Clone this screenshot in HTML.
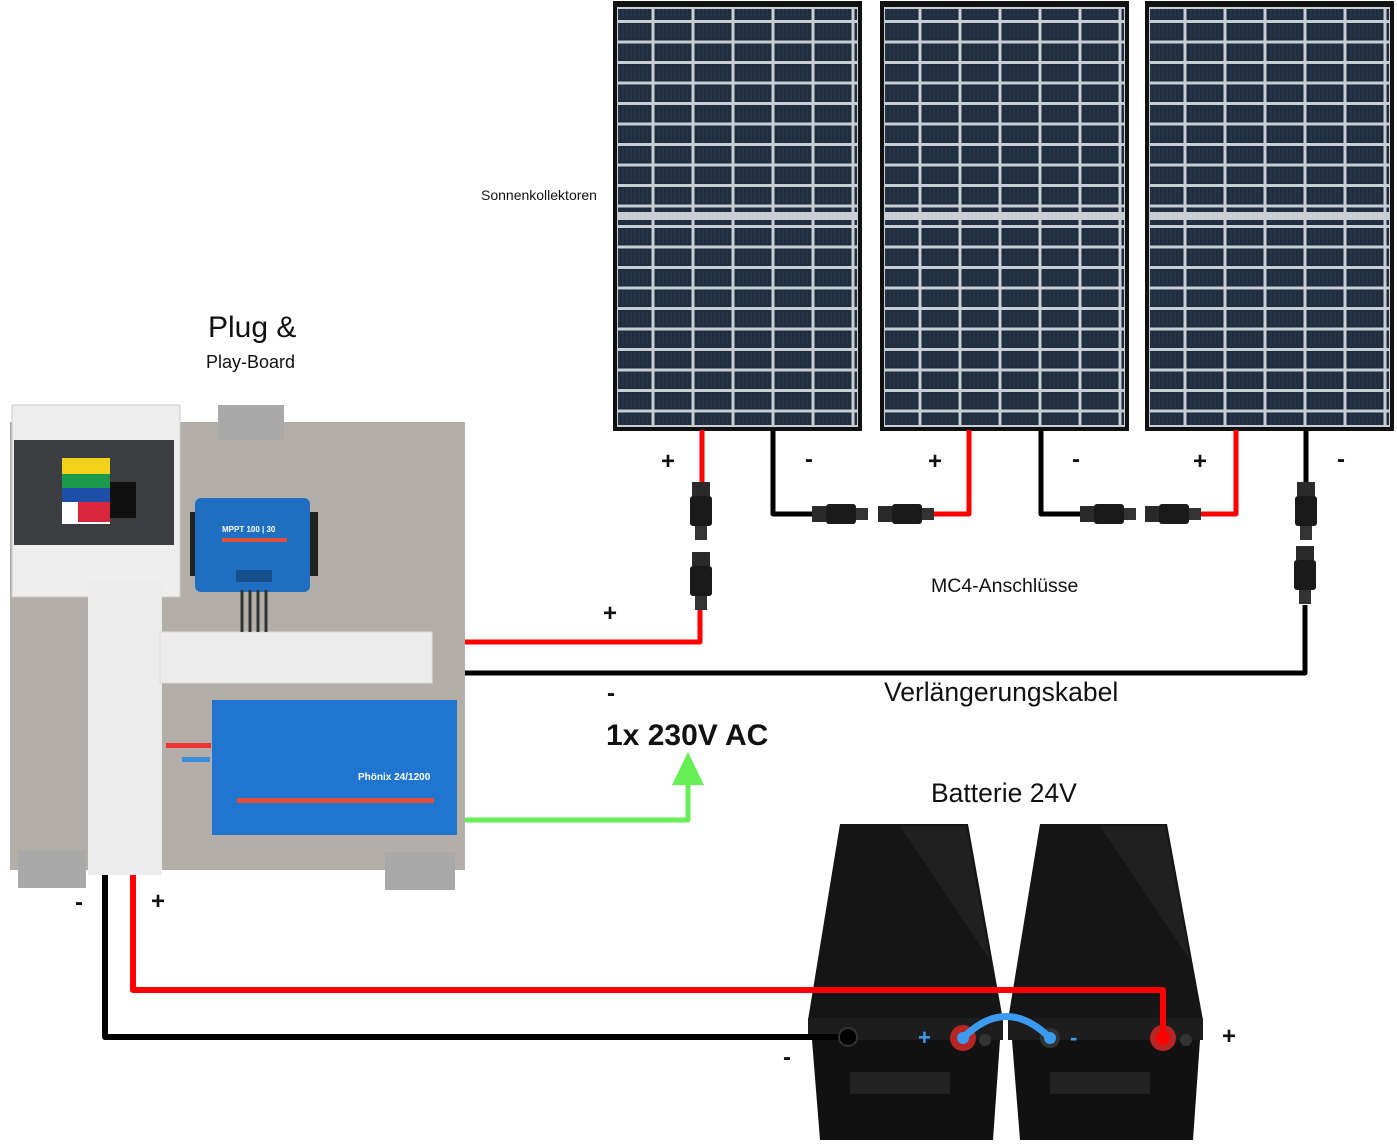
<!DOCTYPE html>
<html><head><meta charset="utf-8"><style>
html,body{margin:0;padding:0;background:#fff;}
svg{display:block;}
text{font-family:"Liberation Sans",sans-serif;}
</style></head><body>
<svg width="1397" height="1148" viewBox="0 0 1397 1148" xmlns="http://www.w3.org/2000/svg">
<defs>
<pattern id="cells" x="0" y="0" width="40" height="20.5" patternUnits="userSpaceOnUse">
<rect width="40" height="20.5" fill="#c9ced4"/>
<rect x="1.5" y="1.5" width="37" height="17.5" fill="#1f2d3f"/>
<path d="M6 3v14M10 3v14M14 3v14M18 3v14M22 3v14M26 3v14M30 3v14M34 3v14" stroke="#2c3b4f" stroke-width="1"/>
</pattern>
<g id="panel">
<rect x="0" y="0" width="249" height="430" fill="#111"/>
<rect x="4" y="6" width="241" height="420" fill="#c9ced4"/>
<rect x="5" y="8" width="239" height="203" fill="url(#cells)"/>
<rect x="5" y="219" width="239" height="205" fill="url(#cells)"/>
</g>
<g id="conn">
<rect x="-9" y="0" width="18" height="14" fill="#2a2a2a"/>
<rect x="-11" y="14" width="22" height="30" rx="3" fill="#1a1a1a"/>
<rect x="-6" y="44" width="12" height="14" fill="#333"/>
</g>
<g id="hconn">
<rect x="0" y="-8" width="14" height="16" fill="#2a2a2a"/>
<rect x="14" y="-10" width="30" height="20" rx="3" fill="#1a1a1a"/>
<rect x="44" y="-6" width="12" height="12" fill="#333"/>
</g>
</defs>

<use href="#panel" x="613" y="1"/>
<use href="#panel" x="880" y="1"/>
<use href="#panel" x="1145" y="1"/>

<!-- batteries -->
<g>
<polygon points="840,824 968,824 1003,1020 808,1020" fill="#151515"/>
<polygon points="900,826 966,826 990,960" fill="#202020"/>
<rect x="808" y="1018" width="195" height="22" fill="#1d1d1d"/>
<polygon points="812,1040 1000,1040 993,1140 820,1140" fill="#111"/>
<rect x="850" y="1072" width="100" height="22" fill="#222"/>
<polygon points="1040,824 1167,824 1203,1020 1008,1020" fill="#151515"/>
<polygon points="1100,826 1165,826 1190,960" fill="#202020"/>
<rect x="1008" y="1018" width="195" height="22" fill="#1d1d1d"/>
<polygon points="1012,1040 1200,1040 1193,1140 1020,1140" fill="#111"/>
<rect x="1050" y="1072" width="100" height="22" fill="#222"/>
<circle cx="963" cy="1038" r="13" fill="#b82525"/>
<circle cx="1050" cy="1038" r="10" fill="#333"/>
<circle cx="1163" cy="1038" r="13" fill="#b82525"/>
<circle cx="985" cy="1040" r="6" fill="#333"/>
<circle cx="1186" cy="1040" r="6" fill="#333"/>
</g>

<g fill="none" stroke-width="5" stroke-linejoin="round">
<path d="M702 430 V490" stroke="#f00"/>
<path d="M700 605 V642 H432" stroke="#f00"/>
<path d="M773 430 V514 H820" stroke="#000"/>
<path d="M969 430 V514 H930" stroke="#f00"/>
<path d="M1041 430 V514 H1085" stroke="#000"/>
<path d="M1236 430 V514 H1195" stroke="#f00"/>
<path d="M1306 430 V490" stroke="#000"/>
<path d="M1305 605 V673 H432" stroke="#000"/>
<path d="M458 820 H688 V780" stroke="#66ee55" stroke-width="5"/>
<path d="M133 875 V990 H1163 V1035" stroke="#f00" stroke-width="6"/>
<path d="M105 875 V1037 H848" stroke="#000" stroke-width="6"/>
</g>
<polygon points="688,752 672,785 704,785" fill="#66ee55"/>
<circle cx="848" cy="1037" r="9" fill="#000" stroke="#333" stroke-width="2"/>
<circle cx="1163" cy="1038" r="7" fill="#f00"/>
<path d="M963 1038 Q1006 995 1050 1038" stroke="#3a9bf0" stroke-width="7" fill="none" stroke-linecap="round"/>
<circle cx="963" cy="1038" r="6" fill="#3a9bf0"/>
<circle cx="1050" cy="1038" r="6" fill="#3a9bf0"/>
<text x="918" y="1045" font-size="22" fill="#3a9bf0" font-weight="bold">+</text>
<text x="1070" y="1045" font-size="22" fill="#3a9bf0" font-weight="bold">-</text>

<use href="#conn" x="701" y="482"/>
<use href="#conn" x="701" y="552"/>
<use href="#conn" x="1306" y="482"/>
<use href="#conn" x="1305" y="546"/>
<use href="#hconn" x="812" y="514"/>
<use href="#hconn" x="878" y="514"/>
<use href="#hconn" x="1080" y="514"/>
<use href="#hconn" x="1145" y="514"/>

<!-- board -->
<rect x="10" y="422" width="455" height="448" fill="#b3afa8"/>
<rect x="218" y="405" width="66" height="35" fill="#a9a9a9"/>
<rect x="18" y="850" width="68" height="38" fill="#a9a9a9"/>
<rect x="385" y="852" width="70" height="38" fill="#a9a9a9"/>
<rect x="12" y="405" width="168" height="192" fill="#eeeeee" stroke="#ccc"/>
<rect x="14" y="440" width="160" height="105" fill="#3b3d40"/>
<rect x="62" y="458" width="48" height="66" fill="#fff"/>
<rect x="62" y="458" width="16" height="16" fill="#f3d21b"/>
<rect x="78" y="458" width="32" height="16" fill="#f3d21b"/>
<rect x="62" y="474" width="48" height="14" fill="#1c9a4b"/>
<rect x="62" y="488" width="48" height="14" fill="#1d4fa8"/>
<rect x="78" y="502" width="32" height="20" fill="#d8263a"/>
<rect x="110" y="482" width="26" height="36" fill="#111"/>
<rect x="88" y="582" width="74" height="293" fill="#ececec"/>
<rect x="160" y="632" width="272" height="51" fill="#ececec" stroke="#ddd"/>
<rect x="190" y="512" width="128" height="64" fill="#222"/>
<rect x="195" y="498" width="115" height="94" rx="6" fill="#1e6fc2"/>
<rect x="222" y="538" width="65" height="4" fill="#e0503a"/>
<text x="222" y="532" font-size="8" fill="#fff" font-weight="bold">MPPT 100 | 30</text>
<rect x="236" y="570" width="36" height="12" fill="#16508c"/>
<path d="M242 590 V632 M250 590 V632 M258 590 V632 M266 590 V632" stroke="#333" stroke-width="3"/>
<rect x="212" y="700" width="245" height="135" fill="#1f75cf"/>
<rect x="237" y="798" width="197" height="5" fill="#e0503a"/>
<text x="358" y="780" font-size="10" fill="#fff" font-weight="bold">Phönix 24/1200</text>
<rect x="166" y="743" width="45" height="5" fill="#e33"/>
<rect x="182" y="757" width="28" height="5" fill="#3a8fe0"/>

<text x="481" y="200" font-size="14" fill="#111">Sonnenkollektoren</text>
<text x="208" y="337" font-size="30" fill="#111">Plug &amp;</text>
<text x="206" y="368" font-size="18" fill="#111">Play-Board</text>
<text x="931" y="592" font-size="19.5" fill="#111">MC4-Anschlüsse</text>
<text x="884" y="701" font-size="26.5" fill="#111">Verlängerungskabel</text>
<text x="606" y="745" font-size="30" fill="#111" font-weight="bold">1x 230V AC</text>
<text x="931" y="802" font-size="26.5" fill="#111">Batterie 24V</text>
<g font-size="24" font-weight="bold" fill="#111">
<text x="661" y="469">+</text>
<text x="805" y="467">-</text>
<text x="928" y="469">+</text>
<text x="1072" y="467">-</text>
<text x="1193" y="469">+</text>
<text x="1337" y="467">-</text>
<text x="603" y="621">+</text>
<text x="607" y="701">-</text>
<text x="75" y="910">-</text>
<text x="151" y="909">+</text>
<text x="783" y="1065">-</text>
<text x="1222" y="1044">+</text>
</g>
</svg>
</body></html>
